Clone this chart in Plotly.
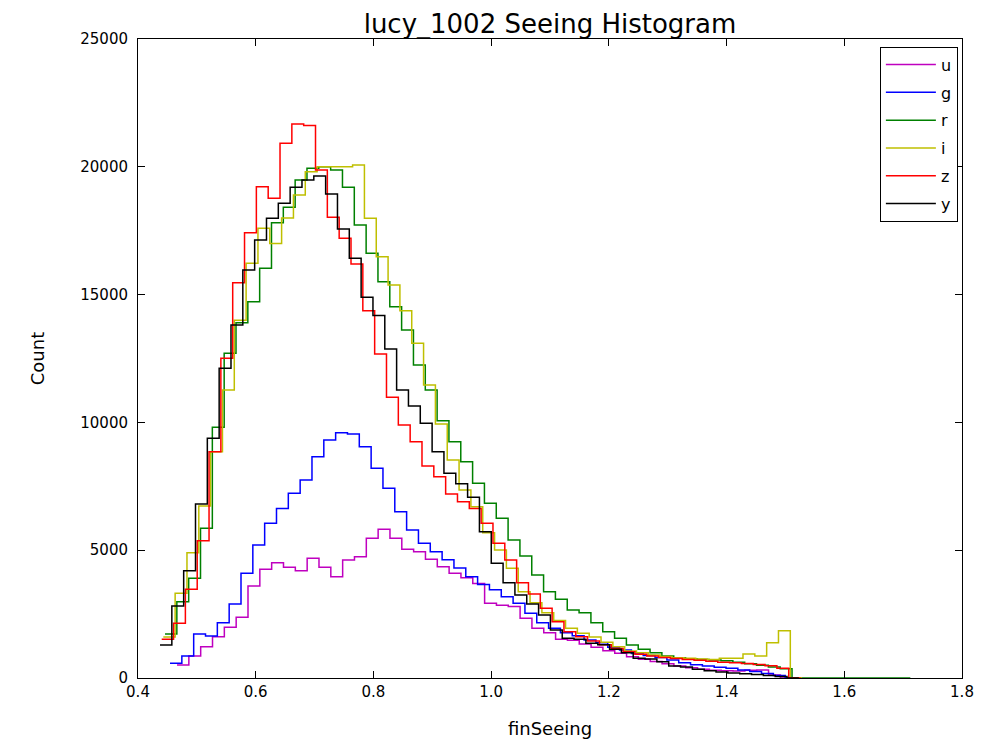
import numpy as np
import plotly.graph_objects as go

# per-filter seeing histograms (counts per bin)
BIN_WIDTH = 0.0201

FILTERS = ["u", "g", "r", "i", "z", "y"]
COLORS = ["#bf00bf", "#0000ff", "#008000", "#bfbf00", "#ff0000", "#000000"]

# first bin edge of each filter's histogram
U_START = 0.4663
G_START = 0.4544
R_START = 0.4459
I_START = 0.4430
Z_START = 0.4403
Y_START = 0.4374

U_COUNTS = [
    509, 861, 1226, 1617, 1982, 2374, 3599, 4251, 4512, 4329,
    4199, 4681, 4329, 3964, 4616, 4746, 5465, 5816, 5465, 5034,
    4942, 4643, 4355, 4100, 3920, 3700, 2921, 2850, 2800, 2335,
    1943, 1773, 1513, 1480, 1330, 1200, 1069, 965, 834, 730,
    650, 560, 470, 400, 340, 300, 280, 270, 300, 310, 120, 0,
]
G_COUNTS = [
    574, 861, 1721, 1643, 2165, 2895, 4095, 5203, 6051, 6636,
    7225, 7746, 8657, 9310, 9597, 9545, 9049, 8203, 7420, 6505,
    5790, 5268, 4942, 4630, 4300, 3964, 3660, 3455, 3181, 2921,
    2530, 2165, 1944, 1773, 1650, 1487, 1382, 1200, 1095, 960,
    880, 800, 704, 600, 520, 469, 420, 380, 313, 250, 180, 100, 0,
]
R_COUNTS = [
    1721, 2985, 3900, 5856, 9806, 12702, 13900, 14721, 16027, 17812,
    18413, 19482, 19939, 20003, 19873, 19196, 17722, 16614, 15504, 14525,
    13614, 12245, 11266, 10066, 9245, 8462, 7615, 6834, 6247, 5398,
    4773, 4029, 3376, 3077, 2660, 2556, 2165, 1813, 1552, 1291,
    1121, 991, 860, 790, 750, 720, 700, 670, 620, 560,
    500, 430, 360, 0, 0, 0, 0, 0, 0, 0, 0, 0, 0,
]
I_COUNTS = [
    1600, 3312, 4903, 6729, 8853, 11266, 14000, 16223, 17591, 17000,
    18000, 18900, 19808, 20003, 20003, 20003, 20068, 17983, 16483, 15374,
    14369, 13093, 11462, 9936, 8528, 7354, 6701, 5685, 5007, 4291,
    3376, 2947, 2556, 2250, 1950, 1750, 1600, 1400, 1220, 1060,
    990, 900, 840, 790, 770, 740, 720, 770, 770, 940,
    860, 1380, 1850, 0,
]
Z_COUNTS = [
    1513, 2139, 3469, 5373, 8853, 12506, 15465, 17421, 19220, 18766,
    20917, 21672, 21620, 19873, 18022, 17200, 16196, 14369, 12675, 10981,
    9897, 9245, 8294, 7875, 7198, 6897, 6636, 6051, 5269, 4616,
    3729, 3286, 2727, 2204, 1813, 1617, 1450, 1300, 1150, 1030,
    930, 860, 800, 760, 720, 690, 660, 620, 600, 570,
    530, 480, 380, 0,
]
Y_COUNTS = [
    1290, 2817, 4198, 6807, 9377, 12115, 13809, 15961, 17135, 17984,
    18570, 19196, 19482, 19638, 18935, 17565, 16418, 14900, 14180, 12870,
    11266, 10640, 9963, 8853, 8008, 7600, 7068, 5724, 4486, 3729,
    3247, 2895, 2465, 1878, 1552, 1513, 1356, 1300, 1121, 991,
    769, 740, 639, 469, 430, 339, 280, 230, 200, 170,
    140, 100, 60, 0,
]

STARTS = [U_START, G_START, R_START, I_START, Z_START, Y_START]
COUNTS = [U_COUNTS, G_COUNTS, R_COUNTS, I_COUNTS, Z_COUNTS, Y_COUNTS]

fig = go.Figure()
for name, color, start, counts in zip(FILTERS, COLORS, STARTS, COUNTS):
    edges = start + BIN_WIDTH * np.arange(len(counts) + 1)
    fig.add_trace(
        go.Scatter(
            x=edges,
            y=counts + [counts[-1]],
            mode="lines",
            name=name,
            legendgroup=name,
            line={"color": color, "width": 1.5, "shape": "hv"},
        )
    )

axis_style = dict(
    showline=True,
    linecolor="black",
    linewidth=1,
    mirror="ticks",
    ticks="inside",
    ticklen=7,
    tickcolor="black",
    showgrid=False,
    zeroline=False,
    automargin=False,
)

# the page adds an 8px body margin, so margins are shifted to land the axes
# where the reference has them
fig.update_layout(
    width=1004,
    height=742,
    margin={"l": 130, "r": 50, "t": 31, "b": 72},
    paper_bgcolor="white",
    plot_bgcolor="white",
    font={"family": "DejaVu Sans", "size": 15, "color": "black"},
    title={
        "text": "lucy_1002 Seeing Histogram",
        "x": 0.5,
        "xref": "paper",
        "xanchor": "center",
        "y": 1,
        "yref": "paper",
        "yanchor": "bottom",
        "pad": {"b": 6},
        "font": {"size": 26},
    },
    legend={
        "x": 0.995,
        "y": 0.988,
        "xanchor": "right",
        "yanchor": "top",
        "bordercolor": "black",
        "borderwidth": 1,
        "bgcolor": "white",
        "font": {"size": 16},
        "itemwidth": 50,
        "tracegroupgap": 4,
    },
    showlegend=True,
)
fig.update_xaxes(
    range=[0.4, 1.8],
    tick0=0.4,
    dtick=0.2,
    tickformat=".1f",
    title={"text": "finSeeing", "standoff": 22, "font": {"size": 18}},
    **axis_style,
)
fig.update_yaxes(
    range=[0, 25000],
    tick0=0,
    dtick=5000,
    tickformat="d",
    ticklabelstandoff=6,
    title={"text": "Count", "standoff": 30, "font": {"size": 18}},
    **axis_style,
)

fig.write_html("out.html")
